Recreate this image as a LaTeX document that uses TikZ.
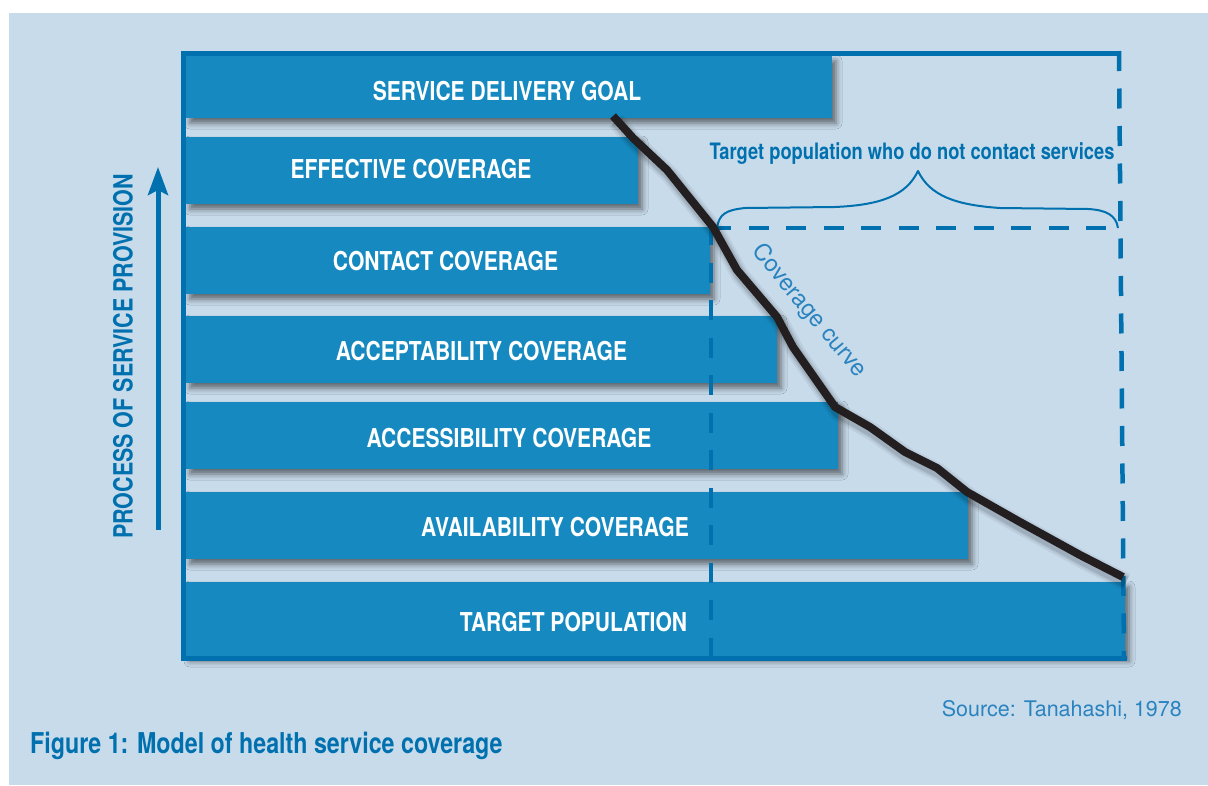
\documentclass[tikz,border=0pt]{standalone}
\usepackage{fontspec}
\setmainfont{TeX Gyre Heros}
\newfontfamily\condfont[FakeStretch=0.81]{TeX Gyre Heros}
\usetikzlibrary{arrows.meta,shadows.blur}
\definecolor{bgblue}{HTML}{C8DBEB}
\definecolor{barblue}{HTML}{168AC0}
\definecolor{deepblue}{HTML}{0071AE}
\definecolor{softblue}{HTML}{2A83BF}
\definecolor{curveblack}{HTML}{231F20}
\begin{document}
\begin{tikzpicture}[x=1pt,y=-1pt,
  bar/.style={fill=barblue, draw=none, inner sep=0pt, outer sep=0pt, anchor=north west,
    blur shadow={shadow xshift=4pt, shadow yshift=-5pt, shadow blur radius=6pt, shadow opacity=55}},
  bartext/.style={text=white, inner sep=0pt, font=\condfont\bfseries\fontsize{26}{30}\selectfont},
  frameline/.style={draw=deepblue, line width=5pt},
  dashline/.style={draw=deepblue, line width=4.5pt, dash pattern=on 20pt off 17.5pt},
  curveline/.style={draw=curveblack, line width=8pt, line join=round},
  headtext/.style={text=deepblue, inner sep=0pt, font=\condfont\bfseries}
]
\useasboundingbox (0,0) rectangle (1208,785);
\fill[white] (0,0) rectangle (1208,785);
\fill[bgblue] (9,13) rectangle (1208,785);

% coverage bars
\node[bar, minimum width=646pt, minimum height=62pt] (goal)      at (186,56)  {};
\node[bar, minimum width=452pt, minimum height=67pt] (effective) at (186,137) {};
\node[bar, minimum width=524pt, minimum height=67pt] (contact)   at (186,227) {};
\node[bar, minimum width=591pt, minimum height=67pt] (accept)    at (186,316) {};
\node[bar, minimum width=652pt, minimum height=67pt] (access)    at (186,402) {};
\node[bar, minimum width=782pt, minimum height=67pt] (avail)     at (186,492) {};
\node[bar, minimum width=939pt, minimum height=74pt] (target)    at (186,582) {};

\node[bartext] (tgoal)      at (507,91.5)  {SERVICE DELIVERY GOAL};
\node[bartext] (teffective) at (411,169)   {EFFECTIVE COVERAGE};
\node[bartext] (tcontact)   at (445.5,261) {CONTACT COVERAGE};
\node[bartext] (taccept)    at (481.5,351) {ACCEPTABILITY COVERAGE};
\node[bartext] (taccess)    at (509,438)   {ACCESSIBILITY COVERAGE};
\node[bartext] (tavail)     at (555,527)   {AVAILABILITY COVERAGE};
\node[bartext] (ttarget)    at (573.5,622) {TARGET POPULATION};

% frame
\draw[frameline] (1121,53.5) -- (183.5,53.5) -- (183.5,658.5) -- (1127,658.5);
\draw[dashline] (1119,51) -- (1124,657);
\draw[dashline] (711,225) -- (711,657);
\draw[dashline] (711,228) -- (1119,228);

% brace over the uncovered part
\draw[deepblue, line width=2pt, line join=round]
  (717,228) .. controls (719,214) and (726,210) .. (745,208)
  -- (835,207) .. controls (880,205) and (906,196) .. (918,171)
  .. controls (930,196) and (956,205) .. (1000,208)
  -- (1088,209) .. controls (1106,210) and (1116,215) .. (1118,228);
\node[headtext, anchor=base, font=\condfont\bfseries\fontsize{22.6}{26}\selectfont] (brace) at (912,159)
  {Target population who do not contact services};

% coverage curve with soft shadow
\foreach \w/\o in {18/0.05,14/0.07,11/0.09}{
  \draw[black, opacity=\o, line width=\w pt, line join=round, xshift=3pt, yshift=-5pt]
    (613,116) -- (633,138) -- (667,170) -- (713,227) -- (737,270) -- (777,317) -- (793,347)
    -- (835,407) -- (870,427) -- (905,452) -- (937,468) -- (967,492) -- (1020,522)
    -- (1080,555) -- (1123,577);
}
\draw[curveline]
  (613,116) -- (633,138) -- (667,170) -- (713,227) -- (737,270) -- (777,317) -- (793,347)
  -- (835,407) -- (870,427) -- (905,452) -- (937,468) -- (967,492) -- (1020,522)
  -- (1080,555) -- (1123,577);
\node[text=softblue, inner sep=0pt, rotate=-50, font=\fontsize{23.5}{27}\selectfont] (curvelabel) at (809,311) {Coverage curve};

% process axis
\coordinate (axisbottom) at (158,530);
\coordinate (axistop) at (158,167);
\draw[deepblue, line width=5pt, -{Stealth[width=20pt,length=28pt,inset=5pt]}] (axisbottom) -- (axistop);
\node[headtext, rotate=90, font=\condfont\bfseries\fontsize{26.5}{30}\selectfont] (axislabel) at (123,356.5)
  {PROCESS OF SERVICE PROVISION};

% source and caption
\node[text=softblue, inner sep=0pt, anchor=base east, font=\fontsize{21.5}{25}\selectfont] (source) at (1182,716)
  {Source: Tanahashi, 1978};
\node[headtext, anchor=base west, font=\condfont\bfseries\fontsize{28.7}{32}\selectfont] (caption) at (30,753)
  {Figure 1: Model of health service coverage};
\end{tikzpicture}
\end{document}
